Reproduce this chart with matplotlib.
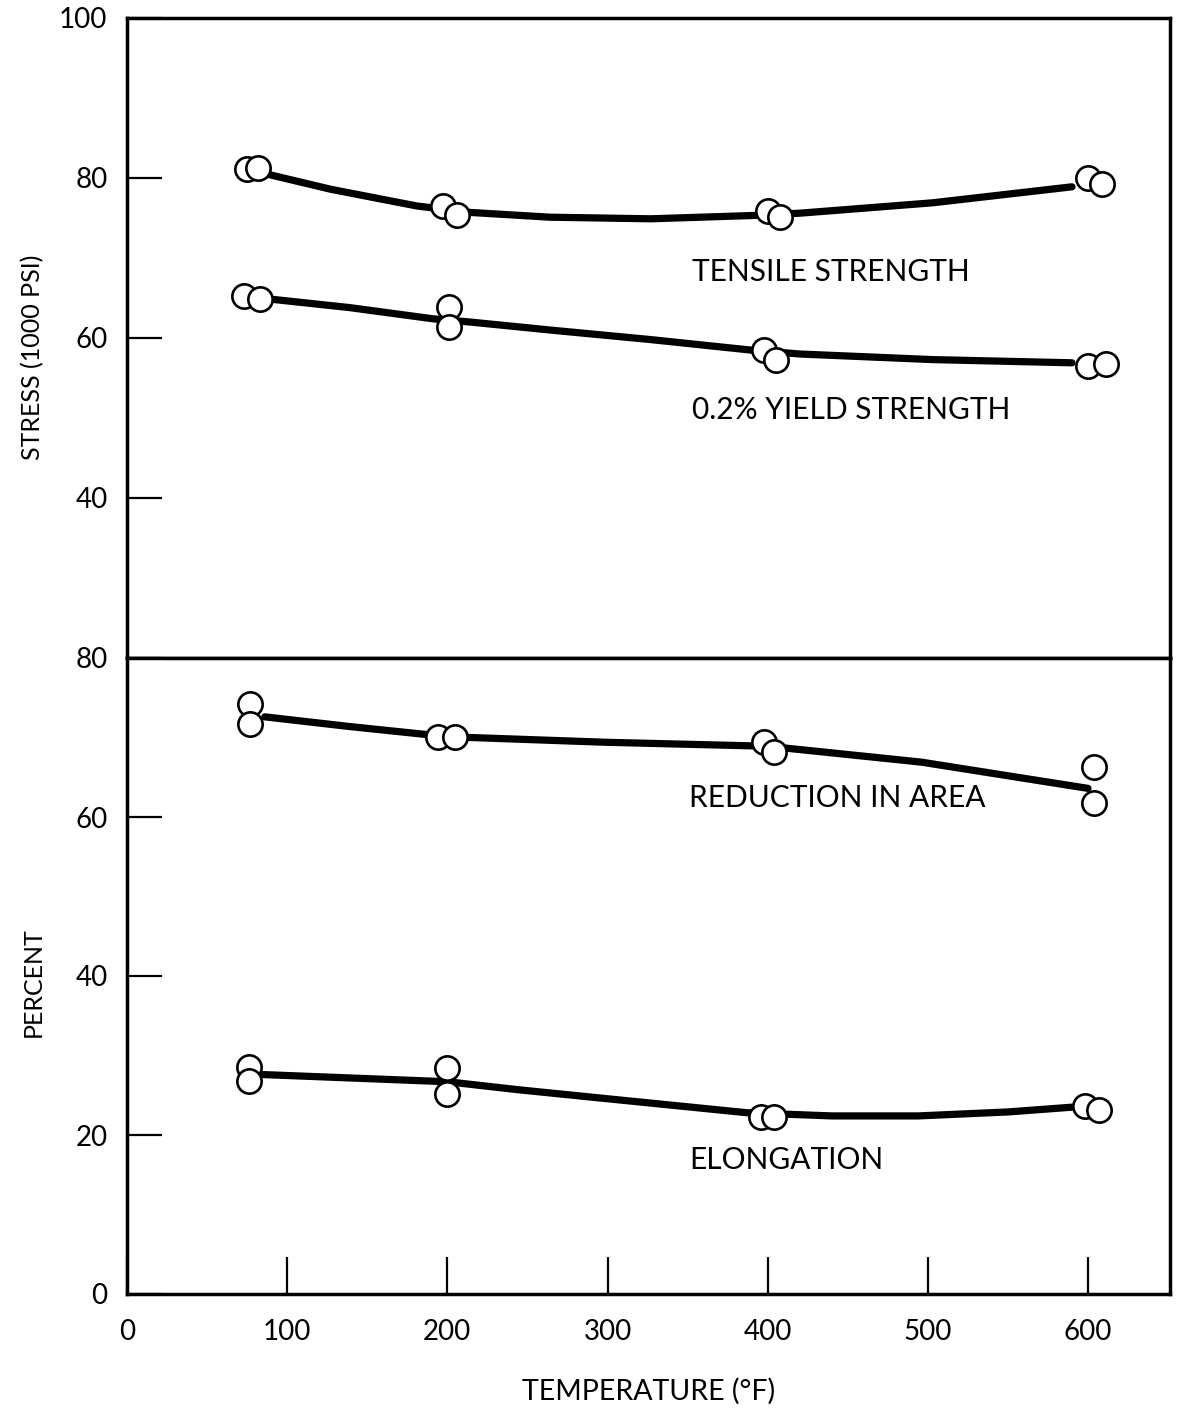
import matplotlib
matplotlib.use("Agg")
import matplotlib.pyplot as plt

plt.rcParams['font.family'] = ['Lato', 'DejaVu Sans']

# ---- data ----
# Stress panel (1000 psi)
tensile_temp = [75, 82, 197, 206, 400, 408, 600, 609]
tensile_vals = [81.1, 81.2, 76.5, 75.4, 75.9, 75.1, 80.0, 79.3]
tensile_curve_temp = [83, 127, 181, 214, 264, 327, 389, 420, 503, 590]
tensile_curve_vals = [80.7, 78.6, 76.5, 75.7, 75.1, 74.9, 75.3, 75.6, 76.9, 78.9]

yield_temp = [73, 83, 201, 201, 398, 405, 600, 611]
yield_vals = [65.3, 64.9, 63.9, 61.4, 58.5, 57.3, 56.5, 56.8]
yield_curve_temp = [83, 139, 191, 214, 264, 327, 389, 420, 503, 590]
yield_curve_vals = [65.0, 63.8, 62.4, 62.0, 61.0, 59.8, 58.5, 58.0, 57.3, 56.9]

# Ductility panel (percent)
ra_temp = [77, 77, 194, 205, 398, 404, 604, 604]
ra_vals = [74.2, 71.7, 70.1, 70.1, 69.4, 68.2, 66.3, 61.8]
ra_curve_temp = [86, 138, 200, 299, 400, 496, 600]
ra_curve_vals = [72.6, 71.4, 70.1, 69.4, 68.9, 66.9, 63.6]

el_temp = [76, 76, 200, 200, 396, 404, 598, 607]
el_vals = [28.6, 26.8, 28.4, 25.2, 22.3, 22.3, 23.6, 23.1]
el_curve_temp = [85, 200, 244, 298, 387, 440, 494, 550, 590]
el_curve_vals = [27.6, 26.7, 25.7, 24.6, 22.8, 22.4, 22.4, 22.9, 23.5]

stress_ticks = [40, 60, 80, 100]
percent_ticks = [0, 20, 40, 60, 80]
temp_ticks = [0, 100, 200, 300, 400, 500, 600]

labels = {
    'tensile': ('TENSILE STRENGTH', 353, 68.3),
    'yield': ('0.2% YIELD STRENGTH', 353, 51.0),
    'ra': ('REDUCTION IN AREA', 351, 62.4),
    'el': ('ELONGATION', 351, 16.9),
}

W, H = 1181, 1420
fig = plt.figure(figsize=(W / 100, H / 100), dpi=100)

left = 127 / W
width = (1170 - 127) / W
ax_top = fig.add_axes([left, 1 - 658 / H, width, (658 - 18) / H])
ax_bot = fig.add_axes([left, 1 - 1294 / H, width, (1294 - 658) / H])

xmax = (1170 - 127) / 1.6017

line_kw = dict(color='black', lw=5.2, solid_capstyle='round',
               solid_joinstyle='round', zorder=2)
mk_kw = dict(ls='none', marker='o', ms=17.5, mfc='white', mec='black', mew=1.9, zorder=3)

ax_top.plot(tensile_curve_temp, tensile_curve_vals, **line_kw)
ax_top.plot(yield_curve_temp, yield_curve_vals, **line_kw)
ax_top.plot(tensile_temp, tensile_vals, **mk_kw)
ax_top.plot(yield_temp, yield_vals, **mk_kw)

ax_bot.plot(ra_curve_temp, ra_curve_vals, **line_kw)
ax_bot.plot(el_curve_temp, el_curve_vals, **line_kw)
ax_bot.plot(ra_temp, ra_vals, **mk_kw)
ax_bot.plot(el_temp, el_vals, **mk_kw)

txt_kw = dict(fontsize=21.5, ha='left', va='center', color='black')
for key, ax in (('tensile', ax_top), ('yield', ax_top), ('ra', ax_bot), ('el', ax_bot)):
    s, x, y = labels[key]
    ax.text(x, y, s, **txt_kw)

for ax in (ax_top, ax_bot):
    ax.set_xlim(0, xmax)
    for sp in ax.spines.values():
        sp.set_linewidth(2.5)
        sp.set_color('black')
    ax.tick_params(axis='y', direction='in', length=25, width=1.6, pad=14,
                   labelsize=20, right=False)

ax_top.set_ylim(20, 100)
ax_top.set_yticks(stress_ticks)
ax_top.set_xticks([])

ax_bot.set_ylim(0, 80)
ax_bot.set_yticks(percent_ticks)
ax_bot.set_xticks(temp_ticks)
ax_bot.tick_params(axis='x', direction='in', length=27, width=1.6, pad=18,
                   labelsize=20, top=False)

ax_top.set_ylabel('STRESS (1000 PSI)', fontsize=18)
ax_top.yaxis.set_label_coords(-0.079, 0.47)
ax_bot.set_ylabel('PERCENT', fontsize=18)
ax_bot.yaxis.set_label_coords(-0.079, 0.49)
ax_bot.set_xlabel('TEMPERATURE (°F)', fontsize=20.5, labelpad=24)

fig.savefig('out.png', dpi=100, facecolor='white')
